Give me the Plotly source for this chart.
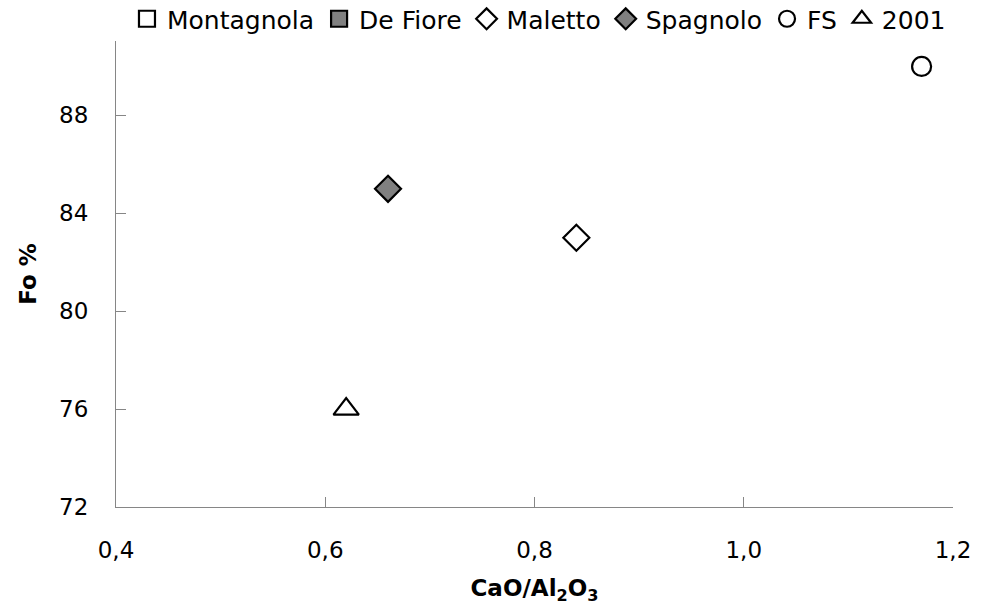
import plotly.graph_objects as go

# Olivine Fo content vs. melt CaO/Al2O3 for each eruption group
series_names = ["Montagnola", "De Fiore", "Maletto", "Spagnolo", "FS", "2001"]
cao_al2o3 = [[None], [None], [0.84], [0.66], [1.17], [0.62]]
fo_pct = [[None], [None], [83], [85], [90], [76]]

marker_symbols = ["square", "square", "diamond", "diamond", "circle", "triangle-up"]
marker_fills = ["white", "#808080", "white", "#808080", "white", "white"]
marker_sizes = [18, 18, 20, 20, 19, 22]

x_ticks = [0.4, 0.6, 0.8, 1.0, 1.2]
y_ticks = [72, 76, 80, 84, 88]

FONT = "DejaVu Sans"
AXIS_GREY = "#868686"

fig = go.Figure()
for name, xs, ys, sym, fill, size in zip(series_names, cao_al2o3, fo_pct,
                                          marker_symbols, marker_fills, marker_sizes):
    fig.add_trace(go.Scatter(
        x=xs, y=ys, name=name, mode="markers",
        marker=dict(symbol=sym, size=size, color=fill,
                    line=dict(color="black", width=2.2)),
    ))

fig.update_layout(
    width=992, height=613,
    margin=dict(l=116, r=39, t=41, b=106, autoexpand=False),
    paper_bgcolor="white", plot_bgcolor="white",
    separators=",.",
    font=dict(family=FONT, size=23, color="black"),
    showlegend=True,
    legend=dict(
        orientation="h", xref="container", x=0.128, xanchor="left",
        yref="container", y=0.969, yanchor="middle",
        bgcolor="rgba(0,0,0,0)", font=dict(family=FONT, size=25, color="black"),
        itemsizing="trace", tracegroupgap=0,
    ),
    xaxis=dict(
        range=[0.4, 1.2], tickvals=x_ticks, tickformat=".1f",
        showgrid=False, zeroline=False,
        showline=True, linecolor=AXIS_GREY, linewidth=1,
        ticks="inside", ticklen=10, tickcolor=AXIS_GREY,
        ticklabelstandoff=22,
        tickfont=dict(family=FONT, size=23, color="black"),
        title=dict(text="<b>CaO/Al<sub>2</sub>O<sub>3</sub></b>",
                   font=dict(family=FONT, size=23, color="black"), standoff=18),
    ),
    yaxis=dict(
        range=[72, 91.04], tickvals=y_ticks,
        showgrid=False, zeroline=False,
        showline=True, linecolor=AXIS_GREY, linewidth=1,
        ticks="inside", ticklen=10, tickcolor=AXIS_GREY,
        ticklabelstandoff=22,
        tickfont=dict(family=FONT, size=23, color="black"),
        title=dict(text="<b>Fo %</b>",
                   font=dict(family=FONT, size=23, color="black"), standoff=16),
    ),
)

fig.write_html("out.html")
